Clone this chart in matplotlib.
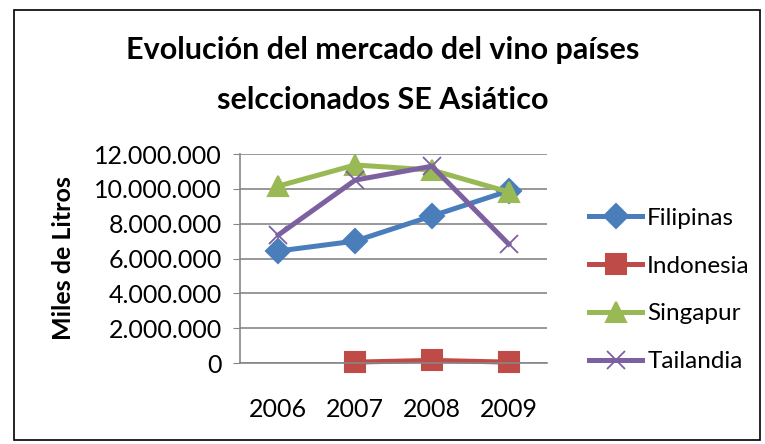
import numpy as np
import matplotlib.pyplot as plt
from matplotlib.patches import Rectangle

years = ['2006', '2007', '2008', '2009']
filipinas = [6430000, 7000000, 8440000, 9880000]
indonesia = [np.nan, 50000, 150000, 50000]
singapur = [10160000, 11370000, 11080000, 9820000]
tailandia = [7350000, 10500000, 11300000, 6830000]

series = [
    ('Filipinas', filipinas, '#4A7EBB', 'D', 12),
    ('Indonesia', indonesia, '#BE4B48', 's', 14),
    ('Singapur', singapur, '#98B954', '^', 15),
    ('Tailandia', tailandia, '#7D60A0', 'x', 13),
]

plt.rcParams['font.family'] = ['Lato', 'DejaVu Sans']

fig = plt.figure(figsize=(7.65, 4.44), dpi=100)
fig.patches.append(Rectangle((14 / 765, 4 / 444), 746 / 765, 430 / 444,
                             transform=fig.transFigure, fill=False,
                             edgecolor='black', linewidth=1.2))

ax = fig.add_axes([240 / 765, 1 - 363 / 444, 307 / 765, 209 / 444])
x = np.arange(len(years))
for name, vals, color, marker, ms in series:
    ax.plot(x, vals, color=color, linewidth=3.6, marker=marker, markersize=ms,
            markeredgewidth=1.5 if marker != 'x' else 1.3,
            markeredgecolor=color, label=name, clip_on=False)

ax.set_xlim(-0.5, 3.5)
ax.set_ylim(0, 12000000)
ax.set_yticks(np.arange(0, 12000001, 2000000))
ax.set_yticklabels(['0' if v == 0 else f'{v:,}'.replace(',', '.')
                    for v in range(0, 12000001, 2000000)])
ax.set_xticks(x)
ax.set_xticklabels(years)
ax.grid(axis='y', color='#868686', linewidth=1.2)
ax.set_axisbelow(True)
for s in ['top', 'right']:
    ax.spines[s].set_visible(False)
ax.spines['left'].set_color('#868686')
ax.spines['bottom'].set_color('#868686')
ax.spines['left'].set_linewidth(1.2)
ax.spines['bottom'].set_linewidth(1.2)
ax.tick_params(axis='y', length=5, color='#868686', labelsize=18, pad=8)
ax.tick_params(axis='x', length=0, labelsize=18, pad=25)
ax.set_ylabel('Miles de Litros', fontsize=18, fontweight='bold', labelpad=14)

fig.text(0.50, 1 - 50 / 444, 'Evolución del mercado del vino países',
         ha='center', va='center', fontsize=22, fontweight='bold')
fig.text(0.50, 1 - 100 / 444, 'selccionados SE Asiático',
         ha='center', va='center', fontsize=22, fontweight='bold')

fig.legend(loc='upper left', bbox_to_anchor=(567 / 765, 1 - 186 / 444),
           frameon=False, fontsize=17.5, handlelength=2.2, labelspacing=1.1,
           handletextpad=0.2)

fig.savefig('out.png', dpi=100)
